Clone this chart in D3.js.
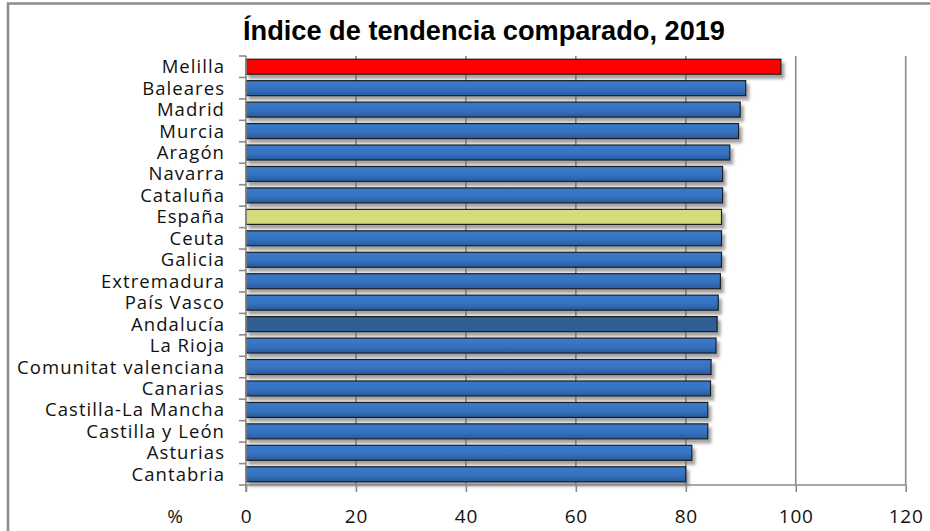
<!DOCTYPE html>
<html>
<head>
<meta charset="utf-8">
<script src="https://cdn.jsdelivr.net/npm/d3@7"></script>
<style>
    body { margin: 0; background: #fff; }
    svg { display: block; }
</style>
</head>
<body>
<div id="chart"></div>
<script>
// data
const regions = ['Melilla', 'Baleares', 'Madrid', 'Murcia', 'Aragón', 'Navarra', 'Cataluña', 'España',
    'Ceuta', 'Galicia', 'Extremadura', 'País Vasco', 'Andalucía', 'La Rioja', 'Comunitat valenciana',
    'Canarias', 'Castilla-La Mancha', 'Castilla y León', 'Asturias', 'Cantabria'];
const values = [97.3, 90.9, 89.9, 89.6, 88.0, 86.7, 86.7, 86.5, 86.5, 86.5, 86.3, 85.9, 85.7, 85.5,
    84.6, 84.5, 84.0, 84.0, 81.1, 80.0];
const xTicks = [0, 20, 40, 60, 80, 100, 120];
const title = 'Índice de tendencia comparado, 2019';

const W = 930, H = 531;
const margin = { top: 56, left: 246, right: 24, bottom: 46 };
const width = 905.7 - margin.left, height = 485 - margin.top;

const svg = d3.select('#chart').append('svg')
    .attr('width', W).attr('height', H);

const defs = svg.append('defs');
const grad = defs.append('linearGradient').attr('id', 'blueGrad')
    .attr('x1', 0).attr('y1', 0).attr('x2', 0).attr('y2', 1);
grad.append('stop').attr('offset', '0%').attr('stop-color', '#3a7bcc');
grad.append('stop').attr('offset', '55%').attr('stop-color', '#3572c0');
grad.append('stop').attr('offset', '100%').attr('stop-color', '#2a5a9c');

const shadow = defs.append('filter').attr('id', 'shadow')
    .attr('x', '-5%').attr('y', '-30%').attr('width', '115%').attr('height', '180%');
shadow.append('feDropShadow').attr('dx', 3).attr('dy', 4).attr('stdDeviation', 1.6)
    .attr('flood-color', '#666').attr('flood-opacity', 0.6);

// outer frame
svg.append('rect').attr('x', 8).attr('y', 3.5).attr('width', W + 20).attr('height', H + 20)
    .attr('fill', 'none').attr('stroke', '#8c8c8c').attr('stroke-width', 2.5);

svg.append('text')
    .attr('x', 243).attr('y', 40)
    .attr('font-family', '"Liberation Sans Narrow", "Arial Narrow", "Liberation Sans", sans-serif')
    .attr('font-weight', 'bold').attr('font-size', 28)
    .attr('textLength', 482).attr('lengthAdjust', 'spacingAndGlyphs')
    .attr('fill', '#000')
    .text(title);

const g = svg.append('g').attr('transform', `translate(${margin.left},${margin.top})`);

const x = d3.scaleLinear().domain([0, 120]).range([0, width]);
const y = d3.scaleBand().domain(regions).range([0, height]).paddingInner(0.3).paddingOuter(0.15);

// vertical gridlines
g.append('g').selectAll('line').data(xTicks.slice(1)).join('line')
    .attr('x1', d => x(d)).attr('x2', d => x(d))
    .attr('y1', 0).attr('y2', height)
    .attr('stroke', '#8a8a8a').attr('stroke-width', 1.6);

// bars
g.append('g').selectAll('rect').data(regions).join('rect')
    .attr('x', 0)
    .attr('y', d => y(d))
    .attr('width', (d, i) => x(values[i]))
    .attr('height', y.bandwidth())
    .attr('fill', d => d === 'Melilla' ? '#ff0000' : d === 'España' ? '#d4dc7c' : d === 'Andalucía' ? '#325f93' : 'url(#blueGrad)')
    .attr('stroke', '#1c1c1c').attr('stroke-width', 1.2)
    .attr('filter', 'url(#shadow)');

const font = '"Open Sans", Lato, sans-serif';

// y axis
const yCats = d3.range(regions.length + 1).map(i => i * height / regions.length);
g.append('g').selectAll('line').data(yCats).join('line')
    .attr('x1', -7).attr('x2', 0).attr('y1', d => d).attr('y2', d => d)
    .attr('stroke', '#8a8a8a').attr('stroke-width', 1.6);
g.append('line').attr('x1', 0).attr('x2', 0).attr('y1', 0).attr('y2', height + 7)
    .attr('stroke', '#8a8a8a').attr('stroke-width', 1.6);
g.append('g').selectAll('text').data(regions).join('text')
    .attr('x', -21)
    .attr('y', d => y(d) + y.bandwidth() / 2 + 6.5)
    .attr('text-anchor', 'end')
    .attr('font-family', font).attr('font-size', 18.5).attr('letter-spacing', 1.05)
    .attr('fill', '#111')
    .text(d => d);

// x axis
const xAxisG = g.append('g').attr('transform', `translate(0,${height})`)
    .call(d3.axisBottom(x).tickValues(xTicks).tickSize(7).tickPadding(18));
xAxisG.select('.domain').attr('stroke', '#8a8a8a').attr('stroke-width', 1.6)
    .attr('d', `M0,0H${width}`);
xAxisG.selectAll('.tick line').attr('stroke', '#8a8a8a').attr('stroke-width', 1.6);
xAxisG.selectAll('.tick text')
    .attr('font-family', font).attr('font-size', 19).attr('letter-spacing', 0.8).attr('fill', '#111');

svg.append('text').attr('x', 175).attr('y', 523).attr('text-anchor', 'middle')
    .attr('font-family', font).attr('font-size', 19).attr('fill', '#111')
    .text('%');
</script>
</body>
</html>
